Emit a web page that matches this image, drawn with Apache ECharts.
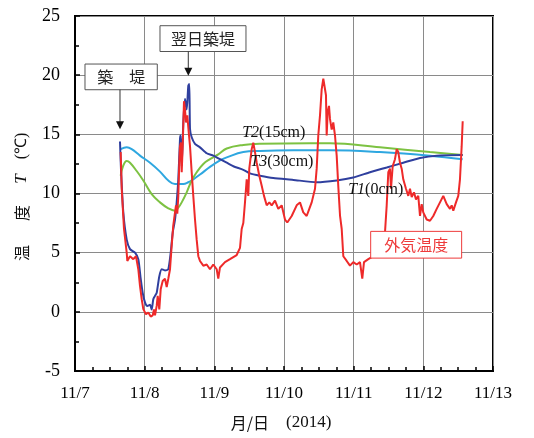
<!DOCTYPE html>
<html>
<head>
<meta charset="utf-8">
<script src="https://cdn.jsdelivr.net/npm/echarts@6/dist/echarts.min.js"></script>
<style>html,body{margin:0;padding:0;background:#fff;}#c{width:534px;height:438px;}</style>
</head>
<body>
<div id="c"></div>
<script>
// hours since 11/7 00:00
const xTickLabels = ['11/7','11/8','11/9','11/10','11/11','11/12','11/13'];
const yTickLabels = ['-5','0','5','10','15','20','25'];

const airHours = [15.74,16.09,16.88,17.81,18.02,18.95,20.08,21.01,21.81,22.39,22.98,23.53,24.46,25.25,26.08,26.77,27.21,27.56,28.14,28.49,29.04,29.52,30.21,31.0,31.59,32.14,32.73,33.31,33.86,34.45,34.79,35.24,35.59,35.93,36.17,36.52,36.76,37.1,37.55,37.89,38.24,38.69,39.17,39.62,40.2,40.75,41.34,41.92,42.48,43.06,44.2,45.37,46.5,47.64,48.81,49.36,49.95,51.67,53.39,55.7,56.84,57.42,57.98,58.56,59.15,59.7,60.04,60.87,61.42,62.01,62.6,63.49,64.32,65.11,66.04,66.94,67.76,68.9,70.03,71.2,72.34,73.13,74.65,76.37,77.51,78.64,79.81,80.71,81.54,82.68,83.26,83.81,84.4,84.98,85.54,86.12,86.46,86.7,87.05,87.5,87.84,88.43,88.98,89.57,90.15,90.73,91.31,91.88,92.43,93.6,94.73,95.87,97.04,98.18,98.97,99.56,101.04,102.76,103.93,106.2,106.79,107.38,107.93,108.51,108.86,109.44,110.23,110.82,111.37,111.96,112.54,113.09,114.02,114.82,115.4,115.99,116.78,117.47,118.26,118.85,119.43,119.98,121.15,122.29,123.43,124.6,125.74,126.87,127.46,128.05,129.18,129.77,130.32,131.25,132.04,132.62,133.21,133.56];
const airTemp = [13.5,10.4,7.0,5.0,4.3,4.7,4.45,4.7,3.6,2.2,1.07,0.23,-0.2,-0.05,-0.4,-0.3,0.2,-0.3,0.5,1.35,0.2,1.9,2.6,2.8,2.1,2.8,3.6,5.6,7.3,8.4,9.0,8.3,9.8,12.6,14.0,14.3,11.8,14.0,17.8,17.1,16.0,16.6,15.2,14.0,11.8,9.8,7.8,6.1,4.7,4.3,3.9,4.0,3.6,4.0,3.6,2.8,3.75,4.2,4.45,4.8,5.4,7.0,7.5,9.25,11.2,9.8,12.1,13.75,14.3,13.5,12.6,11.5,10.65,9.8,9.0,9.25,9.0,9.4,8.7,9.0,7.8,7.55,8.1,9.0,9.25,8.4,8.1,8.7,9.25,10.4,12.1,14.9,16.6,18.8,19.7,19.7,18.3,14.9,16.9,17.4,16.3,15.4,16.0,14.9,13.2,10.5,8.1,7.0,4.7,4.3,3.9,4.2,4.0,4.2,2.8,4.2,4.45,4.7,5.0,5.9,6.7,9.0,11.8,12.1,10.4,12.3,12.9,13.75,13.5,12.6,12.1,11.2,10.4,9.8,10.4,9.7,10.1,9.5,9.8,8.1,9.1,8.4,7.8,7.7,8.1,8.7,9.25,9.8,9.7,9.1,8.7,9.0,8.55,9.25,9.8,11.2,14.0,16.1];

const t1Hours = [15.5,15.85,16.64,17.81,18.95,20.67,21.81,22.63,23.32,24.11,24.91,25.84,26.42,26.97,27.56,28.14,29.04,29.87,31.0,32.14,32.97,33.66,34.45,35.03,35.59,36.17,36.41,36.76,37.31,37.89,38.48,39.03,39.37,39.62,40.2,41.34,43.06,45.37,47.64,49.95,52.26,54.55,57.98,60.28,63.73,68.31,75.2,83.26,90.15,95.87,101.62,107.38,113.09,118.85,124.6,133.56];
const t1Temp = [14.4,12.0,8.4,6.1,5.3,5.0,4.45,2.8,1.6,0.8,0.5,0.6,0.2,1.07,1.35,1.6,3.0,3.6,3.5,3.6,5.0,6.7,7.8,9.25,11.2,14.6,14.9,12.3,16.0,18.0,17.1,19.1,19.25,15.45,14.75,14.2,13.9,13.4,13.2,12.9,12.6,12.3,12.0,11.7,11.5,11.3,11.15,10.95,11.1,11.35,11.8,12.2,12.6,13.0,13.2,13.25];

const t3Hours = [15.74,17.81,19.53,22.39,25.84,29.28,32.14,34.45,37.31,39.03,40.75,43.06,46.5,49.95,52.26,57.98,63.73,75.2,87.84,105.07,122.29,133.56];
const t3Temp = [13.75,13.9,13.75,13.2,12.6,11.85,11.1,10.8,10.8,10.95,11.2,11.6,12.25,12.8,13.05,13.5,13.6,13.65,13.65,13.5,13.2,12.9];

const t2Hours = [15.74,16.53,17.81,18.95,21.25,23.53,26.42,29.28,32.14,34.45,35.59,36.76,38.48,40.2,41.92,44.2,46.5,49.36,52.26,57.98,63.73,80.95,87.84,105.07,122.29,133.56];
const t2Temp = [11.5,12.3,12.75,12.6,11.9,11.1,9.95,9.25,8.75,8.55,8.8,9.25,10.1,11.1,11.8,12.5,12.9,13.3,13.8,14.1,14.2,14.25,14.25,13.9,13.5,13.25];

const zip = (a, b) => a.map((v, i) => [v, b[i]]);

const serif = 'Liberation Serif, Times New Roman, serif';
const cjk = 'Noto Sans CJK JP, sans-serif';

const chart = echarts.init(document.getElementById('c'), null, {renderer: 'canvas'});
chart.setOption({
  animation: false,
  backgroundColor: '#fff',
  grid: {left: 75, right: 41, top: 16, bottom: 67, show: true, borderColor: '#000', borderWidth: 2, backgroundColor: 'transparent'},
  xAxis: {
    type: 'value', min: 0, max: 144, interval: 24,
    axisLine: {show: true, onZero: false, lineStyle: {color: '#000', width: 2}},
    axisTick: {show: true, inside: true, length: 5, lineStyle: {color: '#000', width: 1.5}},
    minorTick: {show: true, splitNumber: 4, length: 4, lineStyle: {color: '#000', width: 1.5}},
    splitLine: {show: true, lineStyle: {color: '#8a8a8a', width: 1}},
    axisLabel: {fontFamily: serif, fontSize: 17, color: '#000', margin: 14,
      formatter: v => xTickLabels[Math.round(v / 24)]},
  },
  yAxis: {
    type: 'value', min: -5, max: 25, interval: 5,
    axisLine: {show: true, onZero: false, lineStyle: {color: '#000', width: 2}},
    axisTick: {show: true, inside: true, length: 5, lineStyle: {color: '#000', width: 1.5}},
    minorTick: {show: true, splitNumber: 2, length: 4, lineStyle: {color: '#000', width: 1.5}},
    splitLine: {show: true, lineStyle: {color: '#8a8a8a', width: 1}},
    axisLabel: {fontFamily: serif, fontSize: 18, color: '#000', margin: 15,
      formatter: v => yTickLabels[Math.round((v + 5) / 5)]},
  },
  series: [
    {name: 'T3(30cm)', type: 'line', data: zip(t3Hours, t3Temp), showSymbol: false, smooth: 0.4,
      lineStyle: {color: '#2ea7e0', width: 2}},
    {name: 'T2(15cm)', type: 'line', data: zip(t2Hours, t2Temp), showSymbol: false, smooth: 0.4,
      lineStyle: {color: '#7dc242', width: 2}},
    {name: 'T1(0cm)', type: 'line', data: zip(t1Hours, t1Temp), showSymbol: false, smooth: 0.2,
      lineStyle: {color: '#2f3f9e', width: 2}},
    {name: '外気温度', type: 'line', data: zip(airHours, airTemp), showSymbol: false,
      lineStyle: {color: '#ee2a2a', width: 2}},
  ],
});

const P = (h, v) => chart.convertToPixel({gridIndex: 0}, [h, v]);

function box(h0, v0, h1, v1, text, color, textColor) {
  const a = P(h0, v0), b = P(h1, v1);
  return [
    {type: 'rect', shape: {x: a[0], y: a[1], width: b[0] - a[0], height: b[1] - a[1]},
      style: {fill: '#fff', stroke: color, lineWidth: 1}, z: 100},
    {type: 'text', x: (a[0] + b[0]) / 2, y: (a[1] + b[1]) / 2,
      style: {text: text, font: '16px ' + cjk, fill: textColor, align: 'center', verticalAlign: 'middle'}, z: 101},
  ];
}
function arrow(h, vFrom, vTo) {
  const a = P(h, vFrom), b = P(h, vTo);
  return [
    {type: 'line', shape: {x1: a[0], y1: a[1], x2: b[0], y2: b[1] - 7}, style: {stroke: '#333', lineWidth: 1}, z: 100},
    {type: 'polygon', shape: {points: [[b[0] - 4, b[1] - 8], [b[0] + 4, b[1] - 8], [b[0], b[1]]]}, style: {fill: '#111'}, z: 100},
  ];
}
function label(h, v, italic, rest) {
  const p = P(h, v);
  return {type: 'text', x: p[0], y: p[1], z: 101,
    style: {text: '{i|' + italic + '}{r|' + rest + '}', align: 'left', verticalAlign: 'middle',
      rich: {i: {font: 'italic 16px ' + serif, fill: '#111'}, r: {font: '16px ' + serif, fill: '#111'}}}};
}
function vtext(x, y, text, font) {
  return {type: 'text', x: x, y: y, rotation: Math.PI / 2, z: 101,
    style: {text: text, font: font, fill: '#111', align: 'center', verticalAlign: 'middle'}};
}

const g = [];
g.push(...box(3.44, 20.94, 28.35, 18.77, '築　堤', '#555', '#222'));
g.push(...arrow(15.5, 18.77, 15.44));
g.push(...box(29.28, 24.18, 58.9, 22.0, '翌日築堤', '#555', '#222'));
g.push(...arrow(39.03, 22.0, 19.95));
g.push(...box(101.86, 6.8, 133.2, 4.54, '外気温度', '#ee3a3a', '#ee3a3a'));
g.push(label(57.6, 15.1, 'T2', '(15cm)'));
g.push(label(60.4, 12.7, 'T3', '(30cm)'));
g.push(label(94.1, 10.3, 'T1', '(0cm)'));
// axis titles
g.push(vtext(22, 253, '温', '16px ' + cjk));
g.push(vtext(22, 213, '度', '16px ' + cjk));
g.push(vtext(22, 179, 'T', 'italic 17px ' + serif));
g.push(vtext(22, 146, '(℃)', '16px ' + serif));
g.push({type: 'text', x: 281, y: 423, z: 101,
  style: {text: '{c|月/日}{s|    (2014)}', align: 'center', verticalAlign: 'middle',
    rich: {c: {font: '16px ' + cjk, fill: '#111'}, s: {font: '17px ' + serif, fill: '#111'}}}});
chart.setOption({graphic: {elements: g}});
</script>
</body>
</html>
